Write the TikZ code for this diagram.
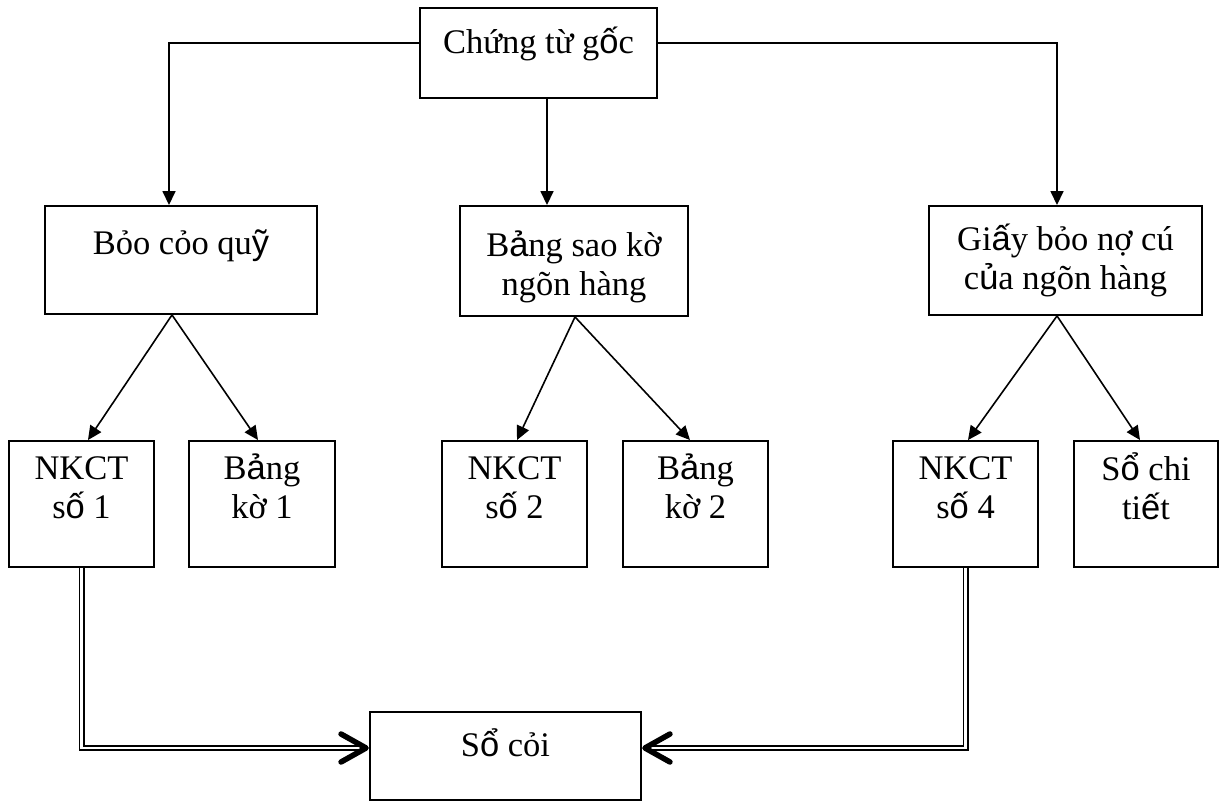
\documentclass[tikz,border=0pt]{standalone}
\usepackage{fontspec}
\setmainfont{Liberation Serif}
\newfontfamily\sfchar{Liberation Sans}
\newcommand{\sv}[1]{{\sfchar #1}}
\usetikzlibrary{arrows.meta}
\begin{document}
\begin{tikzpicture}[x=1pt,y=-1pt,
  box/.style={draw, line width=1.9pt, inner sep=0pt, rectangle},
  lbl/.style={inner sep=0pt, anchor=north, align=center, font=\fontsize{34.5}{39}\selectfont},
  arr/.style={line width=1.6pt, -{Triangle[length=14pt,width=13pt]}},
  dbl/.style={double, double distance=2.8pt, line width=1.6pt},
  chev/.style={line width=5.5pt, line cap=round, line join=round}]
\useasboundingbox (0,0) rectangle (1224,802);
% boxes
\node[box, minimum width=237pt, minimum height=90pt] (goc) at (538.5,53) {};
\node[box, minimum width=272pt, minimum height=108pt] (quy) at (181,260) {};
\node[box, minimum width=228pt, minimum height=110pt] (sao) at (574,261) {};
\node[box, minimum width=273pt, minimum height=109pt] (giay) at (1065.5,260.5) {};
\node[box, minimum width=145pt, minimum height=126pt] (nk1) at (81.5,504) {};
\node[box, minimum width=146pt, minimum height=126pt] (bk1) at (262,504) {};
\node[box, minimum width=145pt, minimum height=126pt] (nk2) at (514.5,504) {};
\node[box, minimum width=145pt, minimum height=126pt] (bk2) at (695.5,504) {};
\node[box, minimum width=145pt, minimum height=126pt] (nk4) at (965.5,504) {};
\node[box, minimum width=144pt, minimum height=126pt] (sct) at (1146,504) {};
\node[box, minimum width=271pt, minimum height=88pt] (cai) at (505.5,756) {};
% texts
\node[lbl] (goc-t) at (538.5,26) {\strut Chứng từ g\sv{ố}c};
\node[lbl] (quy-t) at (181,227) {\strut Bỏo cỏo qu\sv{ỹ}};
\node[lbl] (sao-t) at (574,229) {\strut B\sv{ả}ng sao kờ\\ngõn hàng};
\node[lbl] (giay-t) at (1065.5,223) {\strut Gi\sv{ấ}y bỏo nợ cú\\c\sv{ủ}a ngõn hàng};
\node[lbl] (nk1-t) at (81.5,452) {\strut NKCT\\s\sv{ố} 1};
\node[lbl] (bk1-t) at (262,452) {\strut B\sv{ả}ng\\kờ 1};
\node[lbl] (nk2-t) at (514.5,452) {\strut NKCT\\s\sv{ố} 2};
\node[lbl] (bk2-t) at (695.5,452) {\strut B\sv{ả}ng\\kờ 2};
\node[lbl] (nk4-t) at (965.5,452) {\strut NKCT\\s\sv{ố} 4};
\node[lbl] (sct-t) at (1146,452) {\strut S\sv{ổ} chi\\ti\sv{ế}t};
\node[lbl] (cai-t) at (505.5,728) {\strut S\sv{ổ} cỏi};
% top connectors
\draw[arr] ([yshift=10pt]goc.west) -| ([xshift=-12pt]quy.north);
\draw[arr] ([xshift=8.5pt]goc.south) -- ([xshift=-27pt]sao.north);
\draw[arr] ([yshift=10pt]goc.east) -| ([xshift=-8.5pt]giay.north);
% second level connectors
\draw[arr] ([xshift=-9pt]quy.south) -- ([xshift=6.5pt]nk1.north);
\draw[arr] ([xshift=-9pt]quy.south) -- ([xshift=-4pt]bk1.north);
\draw[arr] ([xshift=1pt]sao.south) -- ([xshift=2.5pt]nk2.north);
\draw[arr] ([xshift=1pt]sao.south) -- ([xshift=-5.5pt]bk2.north);
\draw[arr] ([xshift=-8.5pt]giay.south) -- ([xshift=2.5pt]nk4.north);
\draw[arr] ([xshift=-8.5pt]giay.south) -- ([xshift=-6pt]sct.north);
% double connectors to So cai
\draw[dbl, shorten >=3pt] (nk1.south) |- ([yshift=8pt]cai.west);
\draw[dbl, shorten >=3pt] (nk4.south) |- ([yshift=8pt]cai.east);
\draw[chev] ([shift={(-28pt,22pt)}]cai.west) -- ([shift={(-3pt,8pt)}]cai.west) -- ([shift={(-28pt,-6pt)}]cai.west);
\draw[chev] ([shift={(28pt,22pt)}]cai.east) -- ([shift={(3pt,8pt)}]cai.east) -- ([shift={(28pt,-6pt)}]cai.east);
\end{tikzpicture}
\end{document}
